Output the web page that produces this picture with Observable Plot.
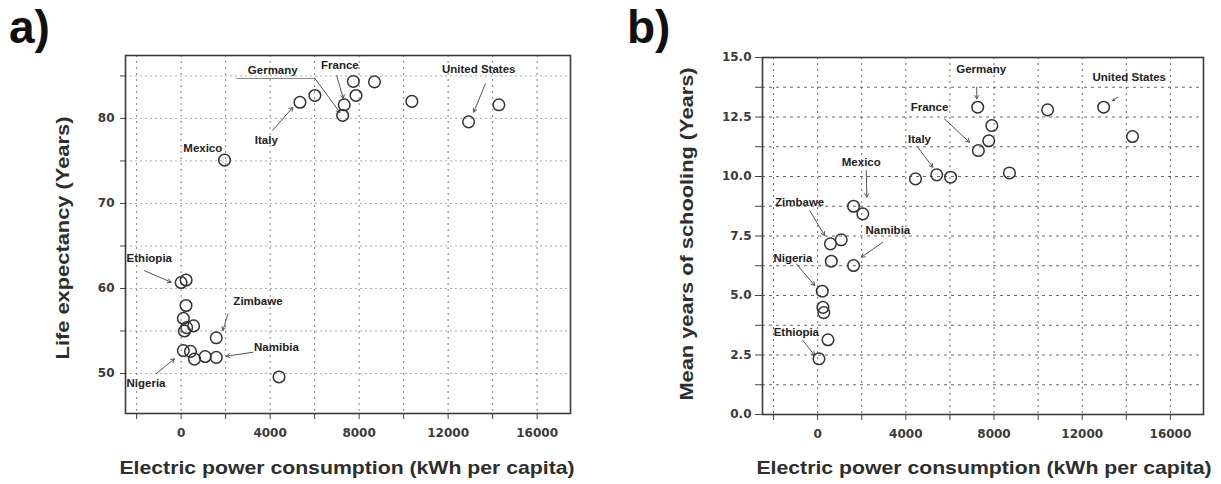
<!DOCTYPE html>
<html>
<head>
<meta charset="utf-8">
<script src="https://cdn.jsdelivr.net/npm/d3@7"></script>
<script src="https://cdn.jsdelivr.net/npm/@observablehq/plot@0.6"></script>
<style>
  html, body { margin: 0; padding: 0; background: #fff; }
  #wrap { position: relative; width: 1221px; height: 484px; overflow: hidden; font-family: "Liberation Sans", Arial, sans-serif; }
  .panel { position: absolute; top: 0; }
  .tag { position: absolute; font-weight: bold; font-size: 46px; color: #111; line-height: 1; }
  .xlab, .ylab { position: absolute; font-weight: bold; font-size: 19px; color: #2e2e2e; white-space: nowrap; line-height: 1; }
  .xlab { transform: translate(-50%, -50%); }
  .ylab { transform: translate(-50%, -50%) rotate(-90deg); }
</style>
</head>
<body>
<div id="wrap">
  <div id="pa" class="panel" style="left:0px"></div>
  <div id="pb" class="panel" style="left:610px"></div>
  <div class="tag" style="left:9px; top:4px">a)</div>
  <div class="tag" style="left:627px; top:4px">b)</div>
  <div class="ylab" data-len="243" style="left:62px; top:238px">Life expectancy (Years)</div>
  <div class="xlab" data-len="455" style="left:347px; top:467px">Electric power consumption (kWh per capita)</div>
  <div class="ylab" data-len="333" style="left:686px; top:234px">Mean years of schooling (Years)</div>
  <div class="xlab" data-len="455" style="left:984px; top:467px">Electric power consumption (kWh per capita)</div>
</div>
<script>
// ---------- Panel a: life expectancy vs electricity ----------
const lifeX = [1950, 5340, 6010, 7330, 7260, 7740, 7860, 8690, 10370, 12920, 14280,
               0, 225, 220, 100, 150, 250, 560, 1580, 100, 420, 600, 1080, 1580, 4400];
const lifeY = [75.1, 81.9, 82.7, 81.6, 80.35, 84.35, 82.7, 84.3, 82.0, 79.6, 81.6,
               60.7, 61.0, 58.0, 56.5, 55.0, 55.4, 55.6, 54.2, 52.7, 52.6, 51.7, 52.0, 51.9, 49.6];

const annA_label = ["Germany", "France", "Italy", "Mexico", "United States", "Ethiopia", "Zimbawe", "Namibia", "Nigeria"];
const annA_tx = [4118, 7135, 3828, 974, 13375, -1430, 3454, 4284, -1578];
const annA_ty = [85.65, 86.2, 77.4, 76.5, 85.76, 63.5, 58.47, 53.1, 48.8];
const annA_x1 = [6012, 6990, 4117, null, 13677, -1655, 2101, 3228, -1127];
const annA_y1 = [84.7, 85.06, 78.6, null, 84.08, 62.1, 57.0, 52.5, 49.96];
const annA_x2 = [7137, 7288, 5019, null, 13149, -451, 1876, 2029, -302];
const annA_y2 = [80.7, 82.35, 81.3, null, 80.74, 60.74, 55.06, 52.04, 51.73];
const germanyLeaderX = [2494, 6012];
const germanyLeaderY = [84.7, 84.7];

const xTicks = [-2000, 0, 2000, 4000, 6000, 8000, 10000, 12000, 14000, 16000];
const xTickLabels = [0, 4000, 8000, 12000, 16000];
const lifeTicks = [50, 55, 60, 65, 70, 75, 80, 85];
const lifeTickLabels = [50, 60, 70, 80];

// ---------- Panel b: schooling vs electricity ----------
const schoolX = [7260, 10430, 12970, 7900, 14280, 7760, 7290, 8700, 4440, 5400, 6030,
                 1630, 2050, 580, 1070, 620, 1630, 210, 240, 280, 470, 60];
const schoolY = [12.91, 12.8, 12.91, 12.14, 11.68, 11.5, 11.09, 10.15, 9.9, 10.07, 9.97,
                 8.75, 8.43, 7.17, 7.34, 6.44, 6.26, 5.18, 4.5, 4.28, 3.14, 2.34];

const annB_label = ["Germany", "United States", "France", "Italy", "Mexico", "Zimbawe", "Namibia", "Nigeria", "Ethiopia"];
const annB_tx = [7416, 14134, 5074, 4620, 1980, -815, 3185, -1119, -965];
const annB_ty = [14.52, 14.17, 12.91, 11.55, 10.58, 8.92, 7.73, 6.58, 3.46];
const annB_x1 = [7216, 13604, 5753, 4544, 2206, -362, 2958, -965, -666];
const annB_y1 = [13.75, 13.33, 12.42, 11.23, 10.25, 8.57, 7.24, 6.33, 3.11];
const annB_x2 = [7216, 13377, 6886, 5223, 2233, 317, 1980, -136, -136];
const annB_y2 = [13.26, 13.19, 11.44, 10.39, 9.13, 7.52, 6.61, 5.42, 2.48];

const schoolTicks = [0, 1.25, 2.5, 3.75, 5, 6.25, 7.5, 8.75, 10, 11.25, 12.5, 13.75, 15];
const schoolTickLabels = [0, 2.5, 5, 7.5, 10, 12.5, 15];

// ---------- build tables ----------
const ptsA = lifeX.map((x, i) => ({x, y: lifeY[i]}));
const ptsB = schoolX.map((x, i) => ({x, y: schoolY[i]}));
const annA = annA_label.map((label, i) => ({label, tx: annA_tx[i], ty: annA_ty[i], x1: annA_x1[i], y1: annA_y1[i], x2: annA_x2[i], y2: annA_y2[i]}));
const annB = annB_label.map((label, i) => ({label, tx: annB_tx[i], ty: annB_ty[i], x1: annB_x1[i], y1: annB_y1[i], x2: annB_x2[i], y2: annB_y2[i]}));
const leaderA = germanyLeaderX.map((x, i) => ({x, y: germanyLeaderY[i]}));

const tickStyle = {fontFamily: "DejaVu Sans", fontWeight: "bold", fontSize: "12px", color: "#3a3a3a", background: "#fff"};

function fmtX(d) { return xTickLabels.includes(d) ? String(d) : ""; }

const plotA = Plot.plot({
  width: 610, height: 484,
  marginLeft: 125, marginRight: 40, marginTop: 55, marginBottom: 71,
  style: tickStyle,
  x: {domain: [-2500, 17500]},
  y: {domain: [45.3, 87.4]},
  marks: [
    Plot.gridX(xTicks, {stroke: "#555", strokeOpacity: 0.75, strokeDasharray: "2,4"}),
    Plot.gridY(lifeTicks, {stroke: "#777", strokeOpacity: 0.6, strokeDasharray: "2,3"}),
    Plot.axisX(xTicks, {tickFormat: fmtX, tickSize: 6, tickPadding: 9, label: null, stroke: "#444"}),
    Plot.axisY(lifeTicks, {tickFormat: d => lifeTickLabels.includes(d) ? String(d) : "", tickSize: 5, tickPadding: 6, label: null, stroke: "#444"}),
    Plot.frame({stroke: "#3a3a3a", strokeWidth: 1.6}),
    Plot.line(leaderA, {x: "x", y: "y", stroke: "#888", strokeWidth: 1}),
    Plot.arrow(annA.filter(d => d.x1 != null), {x1: "x1", y1: "y1", x2: "x2", y2: "y2", stroke: "#555", strokeWidth: 1, headLength: 6}),
    Plot.text(annA, {x: "tx", y: "ty", text: "label", fontSize: 11.5, fontWeight: "bold", fontFamily: "Liberation Sans", fill: "#222"}),
    Plot.dot(ptsA, {x: "x", y: "y", r: 5.8, stroke: "#333", strokeWidth: 1.5, fill: "none"})
  ]
});

const plotB = Plot.plot({
  width: 611, height: 484,
  marginLeft: 152, marginRight: 18, marginTop: 57, marginBottom: 70,
  style: tickStyle,
  x: {domain: [-2500, 17500]},
  y: {domain: [0, 15]},
  marks: [
    Plot.gridX(xTicks, {stroke: "#444", strokeOpacity: 0.8, strokeDasharray: "2,4"}),
    Plot.gridY(schoolTicks, {stroke: "#444", strokeOpacity: 0.8, strokeDasharray: "3,4"}),
    Plot.axisX(xTicks, {tickFormat: fmtX, tickSize: 6, tickPadding: 9, label: null, stroke: "#444"}),
    Plot.axisY(schoolTicks, {tickFormat: d => schoolTickLabels.includes(d) ? d.toFixed(1) : "", tickSize: 7, tickPadding: 4, label: null, stroke: "#444"}),
    Plot.frame({stroke: "#3a3a3a", strokeWidth: 1.6}),
    Plot.arrow(annB, {x1: "x1", y1: "y1", x2: "x2", y2: "y2", stroke: "#555", strokeWidth: 1, headLength: 6}),
    Plot.text(annB, {x: "tx", y: "ty", text: "label", fontSize: 11.5, fontWeight: "bold", fontFamily: "Liberation Sans", fill: "#222"}),
    Plot.dot(ptsB, {x: "x", y: "y", r: 5.8, stroke: "#333", strokeWidth: 1.5, fill: "none"})
  ]
});

document.getElementById("pa").appendChild(plotA);
document.getElementById("pb").appendChild(plotB);

// stretch the axis titles to the lengths they have in the reference
document.querySelectorAll(".xlab, .ylab").forEach(el => {
  const target = +el.dataset.len;
  const w = el.getBoundingClientRect();
  const len = el.classList.contains("ylab") ? w.height : w.width;
  const s = target / len;
  const rot = el.classList.contains("ylab") ? " rotate(-90deg)" : "";
  el.style.transform = "translate(-50%, -50%)" + rot + " scaleX(" + s.toFixed(3) + ")";
});
</script>
</body>
</html>
